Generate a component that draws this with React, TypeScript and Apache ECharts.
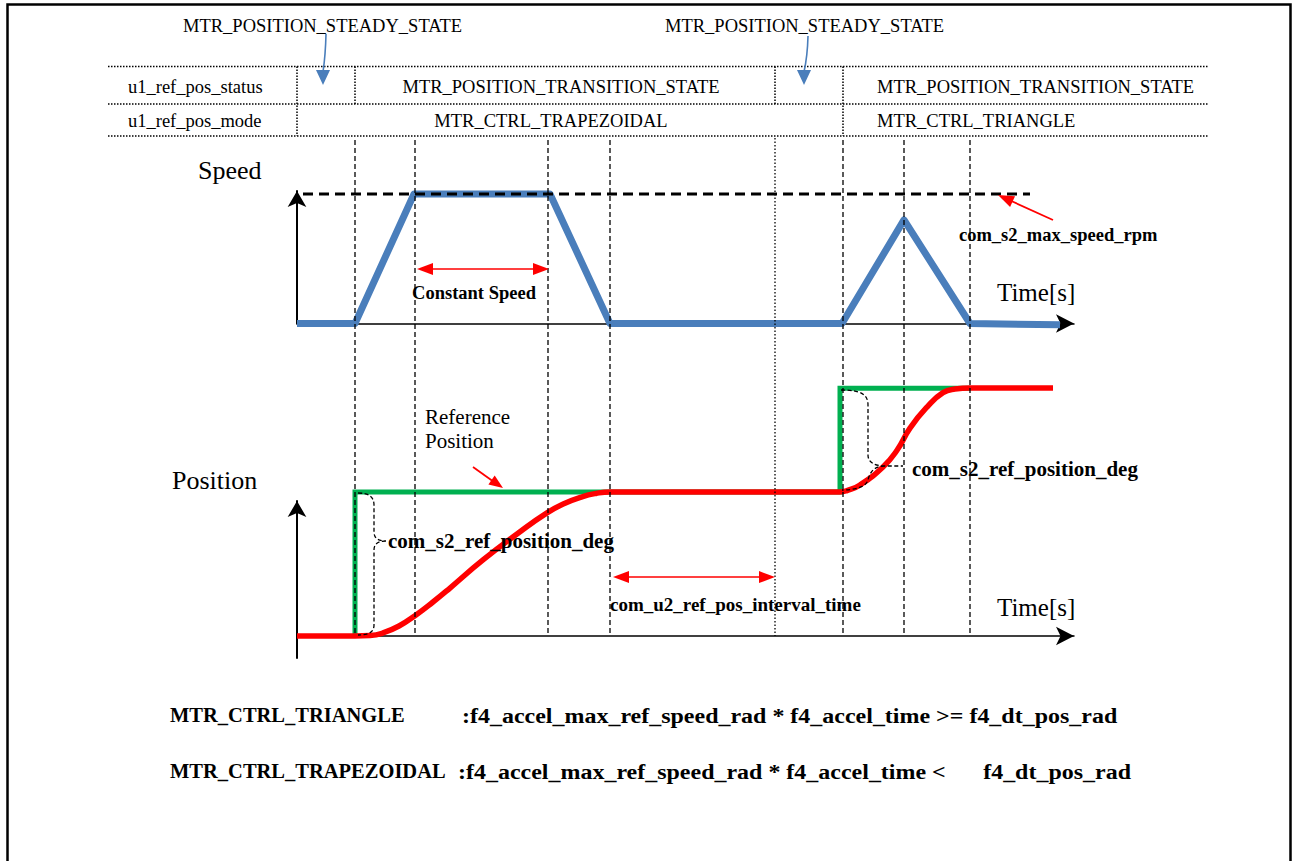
import React, { useEffect, useRef } from "react";
import * as echarts from "echarts";

const SERIF = '"Liberation Serif", "Times New Roman", serif';

// time axis: 1 unit = one time step of the drawing
const TIME_MAX = 7.77;

// Speed profile (1 = com_s2_max_speed_rpm)
const speedTime = [0, 0.58, 1.17, 2.53, 3.13, 5.45, 6.07, 6.73, 7.63];
const speedValue = [0, 0, 1, 1, 0, 0, 0.8, 0, -0.01];
const maxSpeedTime = [0.06, 7.33];
const maxSpeedValue = [1, 1];

// Position: target (green) and reference (red)
const targetTime = [0.58, 0.58, 5.43, 5.43, 6.73];
const targetValue = [0, 1, 1, 1.72, 1.72];
const refTime = [0, 0.58, 0.73, 0.86, 1.02, 1.19, 1.36, 1.53, 1.86, 2.2, 2.5, 2.68, 2.85, 2.99, 3.13,
  5.43, 5.5, 5.63, 5.86, 6.0, 6.13, 6.3, 6.46, 6.58, 6.73, 7.56];
const refValue = [0, 0, 0.003, 0.021, 0.069, 0.146, 0.236, 0.333, 0.528, 0.708, 0.855, 0.922, 0.967, 0.99, 1,
  1, 1.01, 1.049, 1.174, 1.29, 1.444, 1.59, 1.69, 1.715, 1.722, 1.722];

// vertical guide lines (time of each event)
const guideTimes = [0.58, 1.18, 2.51, 3.13, 5.46, 6.07, 6.73];
const intervalEndTime = [4.78];

// table texts
const rowLabels = ["u1_ref_pos_status", "u1_ref_pos_mode"];
const statusTexts = ["MTR_POSITION_TRANSITION_STATE", "MTR_POSITION_TRANSITION_STATE"];
const modeTexts = ["MTR_CTRL_TRAPEZOIDAL", "MTR_CTRL_TRIANGLE"];
const steadyText = "MTR_POSITION_STEADY_STATE";

const pairs = (xs: number[], ys: number[]) => xs.map((x, i) => [x, ys[i]]);

echarts.graphic.registerShape(
  "brace1",
  echarts.graphic.extendPath(
    "M 358 493 C 369 493 374 497 374 505 L 374 532 C 374 538 378 541 386 541 M 386 541 C 378 541 374 544 374 550 L 374 625 C 374 632 369 635 358 635",
    {}
  )
);
echarts.graphic.registerShape(
  "brace2",
  echarts.graphic.extendPath(
    "M 841 390 C 862 390 868 395 868 405 L 868 455 C 868 462 874 466 885 466 L 903 466 M 885 466 C 874 466 870 472 868 480 C 866 487 855 490 842 490",
    {}
  )
);

type TOpt = { bold?: boolean; align?: string; scaleX?: number };
const txt = (s: string, x: number, y: number, size: number, o: TOpt = {}) => ({
  type: "text",
  x,
  y,
  scaleX: o.scaleX || 1,
  z: 20,
  silent: true,
  style: {
    text: s,
    fill: "#000",
    fontSize: size,
    fontFamily: SERIF,
    fontWeight: o.bold ? "bold" : "normal",
    align: o.align || "left",
    verticalAlign: "middle",
  },
});

const seg = (x1: number, y1: number, x2: number, y2: number, stroke: string, lineWidth: number, lineDash?: number[]) => ({
  type: "line",
  z: 20,
  silent: true,
  shape: { x1, y1, x2, y2 },
  style: { stroke, lineWidth, lineDash: lineDash || null },
});

const head = (tx: number, ty: number, fx: number, fy: number, len: number, w: number, fill: string) => {
  const dx = tx - fx;
  const dy = ty - fy;
  const d = Math.sqrt(dx * dx + dy * dy);
  const ux = dx / d;
  const uy = dy / d;
  const bx = tx - ux * len;
  const by = ty - uy * len;
  const nx = -uy * (w / 2);
  const ny = ux * (w / 2);
  return {
    type: "polygon",
    z: 21,
    silent: true,
    shape: { points: [[tx, ty], [bx + nx, by + ny], [bx - nx, by - ny]] },
    style: { fill },
  };
};

const RED = "#ff0000";
const BLUE = "#4a7ebb";
const DOT = [1.5, 1.5];

const graphics: any[] = [
  // frame
  {
    type: "polyline",
    z: 20,
    silent: true,
    shape: { points: [[7.5, 861], [7.5, 4.5], [1290.5, 4.5], [1290.5, 861]] },
    style: { stroke: "#000", lineWidth: 2.5, fill: "none" },
  },
  // table
  seg(108, 66.5, 1208, 66.5, "#000", 1.5, DOT),
  seg(108, 104, 1208, 104, "#000", 1.5, DOT),
  seg(108, 136, 1208, 136, "#000", 1.5, DOT),
  seg(297, 66.5, 297, 136, "#000", 1.5, DOT),
  seg(355, 66.5, 355, 104, "#000", 1.5, DOT),
  seg(775, 66.5, 775, 104, "#000", 1.5, DOT),
  seg(843, 66.5, 843, 136, "#000", 1.5, DOT),
  txt(rowLabels[0], 128, 87, 18.5),
  txt(rowLabels[1], 128, 121, 18.5),
  txt(statusTexts[0], 561, 87, 18.5, { align: "center" }),
  txt(statusTexts[1], 877, 87, 18.5),
  txt(modeTexts[0], 551, 121, 18.5, { align: "center" }),
  txt(modeTexts[1], 877, 121, 18.5),
  txt(steadyText, 183, 26, 18.5),
  txt(steadyText, 665, 26, 18.5),
  // blue arrows
  {
    type: "bezierCurve",
    z: 20,
    silent: true,
    shape: { x1: 326, y1: 34, x2: 323, y2: 72, cpx1: 325.5, cpy1: 55 },
    style: { stroke: BLUE, lineWidth: 1.6, fill: "none" },
  },
  head(323, 85, 323, 70, 15, 14, BLUE),
  {
    type: "bezierCurve",
    z: 20,
    silent: true,
    shape: { x1: 808, y1: 36, x2: 804, y2: 72, cpx1: 807.5, cpy1: 56 },
    style: { stroke: BLUE, lineWidth: 1.6, fill: "none" },
  },
  head(804, 85, 804, 70, 15, 14, BLUE),
  // plot labels
  txt("Speed", 198, 170, 26),
  txt("Position", 172, 480, 26),
  txt("Time[s]", 997, 292, 25),
  txt("Time[s]", 997, 607, 25),
  // constant speed arrow
  seg(428, 269, 538, 269, RED, 1.6),
  head(417, 269, 430, 269, 16, 12, RED),
  head(549, 269, 536, 269, 16, 12, RED),
  txt("Constant Speed", 474, 293, 18.5, { bold: true, align: "center" }),
  // max speed arrow
  seg(1053, 220, 1008, 199.5, RED, 1.8),
  head(998, 195, 1053, 220, 16, 12, RED),
  txt("com_s2_max_speed_rpm", 959, 235, 18.5, { bold: true }),
  // reference position
  txt("Reference", 425, 417, 21),
  txt("Position", 425, 441, 21),
  seg(473, 467, 494, 482, RED, 1.8),
  head(503, 488, 473, 467, 14, 11, RED),
  // braces
  { type: "brace1", z: 20, silent: true, style: { stroke: "#000", lineWidth: 1.3, lineDash: [4, 2.5], fill: "none" } },
  { type: "brace2", z: 20, silent: true, style: { stroke: "#000", lineWidth: 1.3, lineDash: [4, 2.5], fill: "none" } },
  txt("com_s2_ref_position_deg", 388, 541, 21, { bold: true }),
  txt("com_s2_ref_position_deg", 912, 469, 21, { bold: true }),
  // interval arrow
  seg(624, 577, 764, 577, RED, 1.6),
  head(613, 577, 626, 577, 16, 12, RED),
  head(775, 577, 762, 577, 16, 12, RED),
  txt("com_u2_ref_pos_interval_time", 610, 604, 19, { bold: true }),
  // conditions
  txt("MTR_CTRL_TRIANGLE", 170, 715, 20.5, { bold: true }),
  txt(":f4_accel_max_ref_speed_rad * f4_accel_time >= f4_dt_pos_rad", 462, 715, 22, { bold: true, scaleX: 1.09 }),
  txt("MTR_CTRL_TRAPEZOIDAL", 170, 771, 20.5, { bold: true }),
  txt(":f4_accel_max_ref_speed_rad * f4_accel_time <", 458, 771, 22, { bold: true, scaleX: 1.09 }),
  txt("f4_dt_pos_rad", 1131, 771, 22, { bold: true, align: "right", scaleX: 1.09 }),
];

const hiddenAxis = (gridIndex: number, min: number, max: number, inverse = false) => ({
  type: "value",
  gridIndex,
  min,
  max,
  inverse,
  show: false,
});

const visibleAxis = (gridIndex: number, min: number, max: number, size: number[], width: number) => ({
  type: "value",
  gridIndex,
  min,
  max,
  axisLine: { show: true, onZero: true, symbol: ["none", "arrow"], symbolSize: size, lineStyle: { color: "#000", width } },
  axisTick: { show: false },
  axisLabel: { show: false },
  splitLine: { show: false },
});

const option: any = {
  animation: false,
  backgroundColor: "#fff",
  grid: [
    { left: 297, top: 191, width: 777, height: 132.5 },
    { left: 297, top: 501, width: 777, height: 157 },
    { left: 297, top: 65, width: 777, height: 571 },
  ],
  xAxis: [
    visibleAxis(0, 0, TIME_MAX, [14, 18], 1.5),
    visibleAxis(1, 0, TIME_MAX, [14, 18], 1.5),
    hiddenAxis(2, 0, TIME_MAX),
  ],
  yAxis: [
    visibleAxis(0, 0, 1.023, [14, 16], 2),
    visibleAxis(1, -0.153, 0.9375, [14, 16], 2),
    hiddenAxis(2, 0, 571, true),
  ],
  series: [
    {
      type: "line",
      name: "speed",
      xAxisIndex: 0,
      yAxisIndex: 0,
      data: pairs(speedTime, speedValue),
      symbol: "none",
      clip: false,
      z: 3,
      lineStyle: { color: BLUE, width: 7, join: "round" },
    },
    {
      type: "line",
      name: "max speed",
      xAxisIndex: 0,
      yAxisIndex: 0,
      data: pairs(maxSpeedTime, maxSpeedValue),
      symbol: "none",
      clip: false,
      z: 4,
      lineStyle: { color: "#000", width: 3, type: [10, 6] },
    },
    {
      type: "line",
      name: "target",
      xAxisIndex: 1,
      yAxisIndex: 1,
      data: pairs(targetTime, targetValue),
      symbol: "none",
      clip: false,
      z: 3,
      lineStyle: { color: "#00b050", width: 5, join: "miter" },
    },
    {
      type: "line",
      name: "reference",
      xAxisIndex: 1,
      yAxisIndex: 1,
      data: pairs(refTime, refValue),
      symbol: "none",
      smooth: 0.5,
      clip: false,
      z: 4,
      lineStyle: { color: RED, width: 5.5 },
    },
    ...guideTimes.map((t) => ({
      type: "line",
      xAxisIndex: 2,
      yAxisIndex: 2,
      data: [[t, 75], [t, 571]],
      symbol: "none",
      silent: true,
      z: 6,
      lineStyle: { color: "#000", width: 1.3, type: [5, 3] },
    })),
    ...intervalEndTime.map((t) => ({
      type: "line",
      xAxisIndex: 2,
      yAxisIndex: 2,
      data: [[t, 73], [t, 571]],
      symbol: "none",
      silent: true,
      z: 6,
      lineStyle: { color: "#000", width: 1.3, type: [1.5, 2] },
    })),
  ],
  graphic: graphics,
};

export default function App() {
  const ref = useRef<HTMLDivElement>(null);
  useEffect(() => {
    if (!ref.current) return;
    const chart = echarts.init(ref.current, null, { renderer: "svg" });
    chart.setOption(option);
    return () => chart.dispose();
  }, []);
  return (
    <div
      ref={ref}
      style={{ position: "fixed", left: 0, top: 0, width: 1293, height: 861, background: "#fff" }}
    />
  );
}
